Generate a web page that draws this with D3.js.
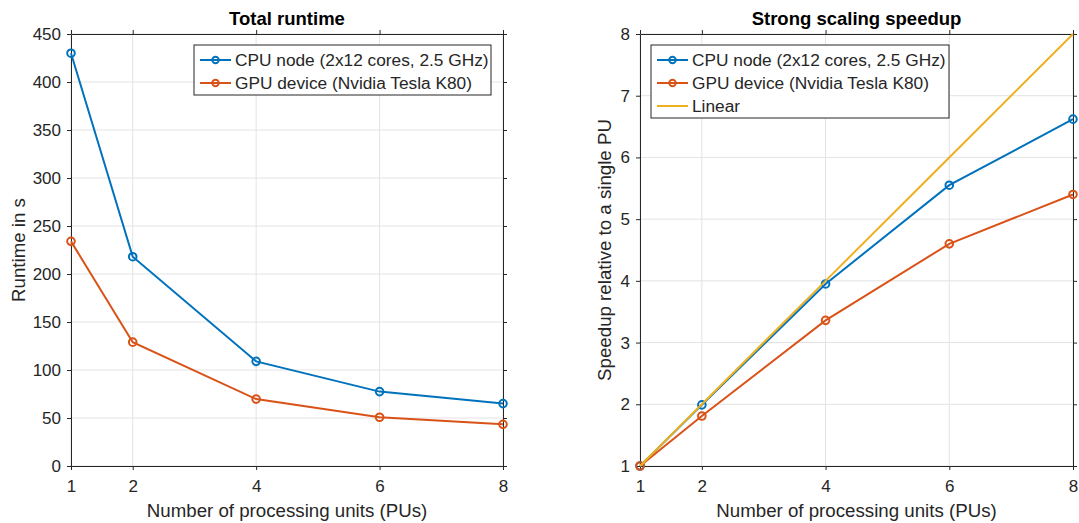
<!DOCTYPE html>
<html>
<head>
<meta charset="utf-8">
<title>Runtime and speedup</title>
<script src="https://cdn.jsdelivr.net/npm/d3@7"></script>
<style>
  body { margin: 0; background: #fff; }
  svg text { font-family: "Liberation Sans", Arial, Helvetica, sans-serif; fill: #262626; }
</style>
</head>
<body>
<svg id="chart" width="1079" height="523"></svg>
<script>
// values
var pus = [1, 2, 4, 6, 8]
var cpuRuntime = [430, 218, 109, 77.5, 65]
var gpuRuntime = [234, 129, 69.7, 50.8, 43.4]
var cpuSpeedup = [1, 1.99, 3.95, 5.55, 6.62]
var gpuSpeedup = [1, 1.81, 3.36, 4.6, 5.4]
var linearSpeedup = [1, 2, 4, 6, 8]
var xTicks = [1, 2, 4, 6, 8]
var runtimeTicks = [0, 50, 100, 150, 200, 250, 300, 350, 400, 450]
var speedupTicks = [1, 2, 3, 4, 5, 6, 7, 8]
var cpuName = "CPU node (2x12 cores, 2.5 GHz)"
var gpuName = "GPU device (Nvidia Tesla K80)"

var blue = "#0072BD", red = "#D95319", yellow = "#EDB120"
var axisColor = "#262626", gridColor = "#e3e3e3"
var fmt = d3.format("d")

var svg = d3.select("#chart")
svg.append("rect").attr("width", 1079).attr("height", 523).attr("fill", "#fff")

function drawPanel(opt) {
    var x = d3.scaleLinear().domain([1, 8]).range([opt.left, opt.right])
    var y = d3.scaleLinear().domain(opt.yDomain).range([466, 34])
    var g = svg.append("g")

    // grid
    g.append("g").selectAll("line").data(xTicks).enter().append("line")
        .attr("x1", d => x(d)).attr("x2", d => x(d))
        .attr("y1", y.range()[0]).attr("y2", y.range()[1])
        .attr("stroke", gridColor).attr("stroke-width", 1)
    g.append("g").selectAll("line").data(opt.yTicks).enter().append("line")
        .attr("x1", opt.left).attr("x2", opt.right)
        .attr("y1", d => y(d)).attr("y2", d => y(d))
        .attr("stroke", gridColor).attr("stroke-width", 1)

    // axes, ticks pointing out on all four sides
    var bottom = g.append("g").attr("transform", "translate(0," + y.range()[0] + ")")
        .call(d3.axisBottom(x).tickValues(xTicks).tickFormat(fmt).tickSize(4).tickSizeOuter(0).tickPadding(10))
    var top = g.append("g").attr("transform", "translate(0," + y.range()[1] + ")")
        .call(d3.axisTop(x).tickValues(xTicks).tickSize(4).tickSizeOuter(0).tickFormat(""))
    var left = g.append("g").attr("transform", "translate(" + opt.left + ",0)")
        .call(d3.axisLeft(y).tickValues(opt.yTicks).tickFormat(fmt).tickSize(4).tickSizeOuter(0).tickPadding(6))
    var right = g.append("g").attr("transform", "translate(" + opt.right + ",0)")
        .call(d3.axisRight(y).tickValues(opt.yTicks).tickSize(4).tickSizeOuter(0).tickFormat(""))
    ;[bottom, top, left, right].forEach(function (a) {
        a.attr("font-size", 17).attr("font-family", null)
        a.select(".domain").attr("stroke", axisColor).attr("stroke-width", 1)
        a.selectAll(".tick line").attr("stroke", axisColor)
        a.selectAll("text").attr("fill", axisColor)
    })

    // series
    opt.series.forEach(function (s) {
        var line = d3.line().x((d, i) => x(pus[i])).y(d => y(d))
        g.append("path").datum(s.values).attr("d", line)
            .attr("fill", "none").attr("stroke", s.color).attr("stroke-width", 2)
        if (s.marker) {
            g.append("g").selectAll("circle").data(s.values).enter().append("circle")
                .attr("cx", (d, i) => x(pus[i])).attr("cy", d => y(d)).attr("r", 3.8)
                .attr("fill", "none").attr("stroke", s.color).attr("stroke-width", 2)
        }
    })

    // title and labels
    var cx = (opt.left + opt.right) / 2
    svg.append("text").attr("x", cx).attr("y", 25).attr("text-anchor", "middle")
        .attr("font-size", 18.5).attr("font-weight", "bold").style("fill", "#000").text(opt.title)
    svg.append("text").attr("x", cx).attr("y", 517).attr("text-anchor", "middle")
        .attr("font-size", 18.7).text("Number of processing units (PUs)")
    svg.append("text").attr("transform", "translate(" + opt.yLabelX + ",250) rotate(-90)")
        .attr("text-anchor", "middle").attr("font-size", 18.7).text(opt.yLabel)

    // legend
    var lg = svg.append("g")
    lg.append("rect").attr("x", opt.legend.x).attr("y", opt.legend.y)
        .attr("width", opt.legend.w).attr("height", opt.legend.h)
        .attr("fill", "#fff").attr("stroke", axisColor).attr("stroke-width", 1)
    opt.series.forEach(function (s, i) {
        var ry = opt.legend.y + 15 + i * 23
        var lx = opt.legend.x + 6
        lg.append("line").attr("x1", lx).attr("x2", lx + 31).attr("y1", ry).attr("y2", ry)
            .attr("stroke", s.color).attr("stroke-width", 2)
        if (s.marker) {
            lg.append("circle").attr("cx", lx + 15.5).attr("cy", ry).attr("r", 3.2)
                .attr("fill", "none").attr("stroke", s.color).attr("stroke-width", 2)
        }
        lg.append("text").attr("x", lx + 35).attr("y", ry + 6).attr("font-size", 17.3).text(s.name)
    })
}

drawPanel({
    left: 71, right: 503,
    yDomain: [0, 450], yTicks: runtimeTicks,
    title: "Total runtime", yLabel: "Runtime in s", yLabelX: 25,
    legend: { x: 194, y: 45, w: 297, h: 50 },
    series: [
        { name: cpuName, values: cpuRuntime, color: blue, marker: true },
        { name: gpuName, values: gpuRuntime, color: red, marker: true }
    ]
})

drawPanel({
    left: 640, right: 1073,
    yDomain: [1, 8], yTicks: speedupTicks,
    title: "Strong scaling speedup", yLabel: "Speedup relative to a single PU", yLabelX: 611,
    legend: { x: 651, y: 45, w: 298, h: 73 },
    series: [
        { name: cpuName, values: cpuSpeedup, color: blue, marker: true },
        { name: gpuName, values: gpuSpeedup, color: red, marker: true },
        { name: "Linear", values: linearSpeedup, color: yellow, marker: false }
    ]
})
</script>
</body>
</html>
